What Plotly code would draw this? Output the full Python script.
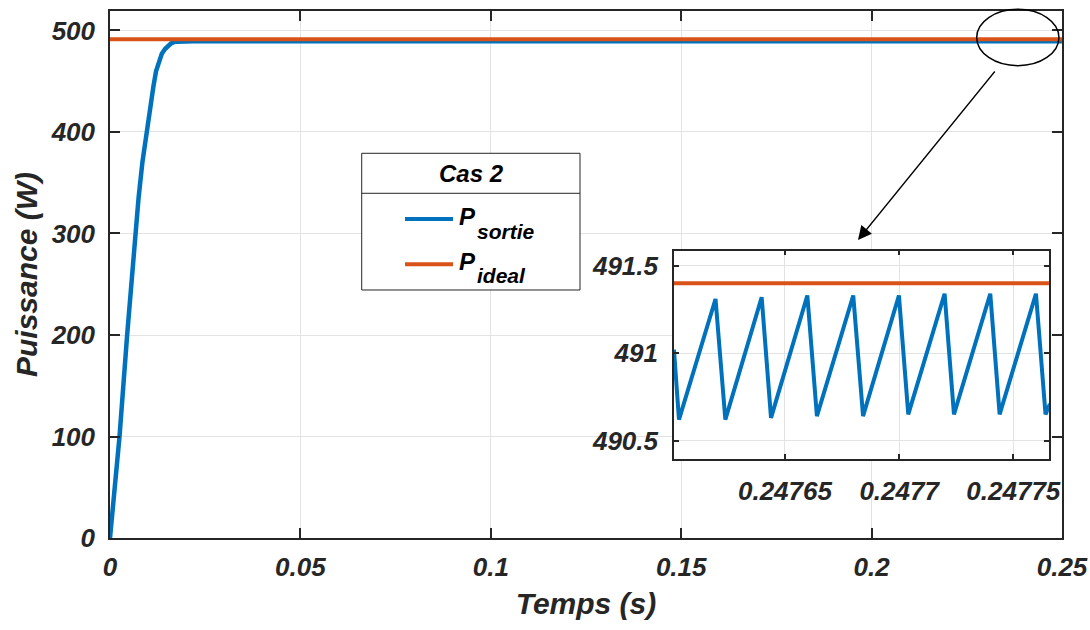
import plotly.graph_objects as go

# ---- data ----
t_main = [0, 0.0025, 0.0045, 0.0066, 0.0075, 0.0085, 0.0096, 0.0105, 0.0114, 0.0121, 0.0128,
          0.0132, 0.0136, 0.0145, 0.0153, 0.0160, 0.0168, 0.0175, 0.022, 0.05, 0.1, 0.15,
          0.2, 0.25]
p_sortie = [0, 100, 200, 300, 335, 370, 400, 425, 445, 460, 469,
            473.5, 477, 482, 485.2, 487.2, 488.5, 489, 489.5, 489.5, 489.5, 489.5,
            489.5, 489.5]
t_ideal = [0, 0.25]
p_ideal = [491.4, 491.4]

inset_t = [0.2476014, 0.2476036, 0.2476196, 0.2476239, 0.2476398, 0.2476439, 0.2476598,
           0.2476640, 0.2476799, 0.2476842, 0.2476999, 0.2477040, 0.2477199, 0.2477240,
           0.2477399, 0.2477440, 0.2477599, 0.2477641, 0.2477660]
inset_p = [491.02, 490.62, 491.31, 490.62, 491.32, 490.63, 491.33, 490.64, 491.33,
           490.64, 491.33, 490.65, 491.34, 490.65, 491.34, 490.65, 491.34, 490.65, 490.71]
inset_ideal_t = [0.2476014, 0.2477656]
inset_ideal_p = [491.4, 491.4]

x_ticks = [0, 0.05, 0.1, 0.15, 0.2, 0.25]
x_ticktext = ["0", "0.05", "0.1", "0.15", "0.2", "0.25"]
y_ticks = [0, 100, 200, 300, 400, 500]
inset_xticks = [0.24765, 0.2477, 0.24775]
inset_xtext = ["0.24765", "0.2477", "0.24775"]
inset_yticks = [490.5, 491, 491.5]
inset_ytext = ["490.5", "491", "491.5"]

BLUE = "#0072BD"
ORANGE = "#D95319"
TXT = "#262626"
FONT = "Liberation Sans"

fig = go.Figure()
fig.add_trace(go.Scatter(x=t_main, y=p_sortie, mode="lines", line=dict(color=BLUE, width=4.5),
                         xaxis="x", yaxis="y", showlegend=False))
fig.add_trace(go.Scatter(x=t_ideal, y=p_ideal, mode="lines", line=dict(color=ORANGE, width=4),
                         xaxis="x", yaxis="y", showlegend=False))
fig.add_trace(go.Scatter(x=inset_t, y=inset_p, mode="lines", line=dict(color=BLUE, width=4),
                         xaxis="x2", yaxis="y2", showlegend=False))
fig.add_trace(go.Scatter(x=inset_ideal_t, y=inset_ideal_p, mode="lines",
                         line=dict(color=ORANGE, width=4),
                         xaxis="x2", yaxis="y2", showlegend=False))

tickfont = dict(family=FONT, size=26, color=TXT, weight="bold", style="italic")
titlefont = dict(family=FONT, size=30, color=TXT, weight="bold", style="italic")
axcommon = dict(showline=True, linecolor=TXT, linewidth=1.5, mirror="ticks",
                ticks="inside", tickcolor=TXT, tickwidth=1.5, automargin=False,
                showgrid=True, gridcolor="#e3e3e3", gridwidth=1, zeroline=False,
                tickfont=tickfont)

fig.update_layout(
    width=1090, height=630,
    margin=dict(l=110, r=28, t=11, b=92, autoexpand=False),
    paper_bgcolor="white", plot_bgcolor="white",
    xaxis=dict(domain=[0, 1], range=[0, 0.25], tickvals=x_ticks, ticktext=x_ticktext,
               ticklen=10, ticklabelstandoff=5,
               title=dict(text="Temps (s)", font=titlefont, standoff=12), **axcommon),
    yaxis=dict(domain=[0, 1], range=[0, 519.2], tickvals=y_ticks, ticklen=10,
               ticklabelstandoff=8,
               title=dict(text="Puissance (W)", font=titlefont, standoff=4), **axcommon),
    xaxis2=dict(domain=[0.5924, 0.9863], range=[0.2476014, 0.2477656], anchor="y2",
                tickvals=inset_xticks, ticktext=inset_xtext, ticklen=5,
                ticklabelstandoff=8, **axcommon),
    yaxis2=dict(domain=[0.1499, 0.5452], range=[490.395, 491.586], anchor="x2",
                tickvals=inset_yticks, ticktext=inset_ytext, ticklen=5,
                ticklabelstandoff=9, **axcommon),
)

shapes = [
    # white background for inset (hides main grid)
    dict(type="rect", xref="x2 domain", yref="y2 domain", x0=0, x1=1, y0=0, y1=1,
         fillcolor="white", line=dict(width=0), layer="below"),
    # legend box
    dict(type="rect", xref="paper", yref="paper", x0=0.2644, x1=0.4937, y0=0.4706, y1=0.7300,
         fillcolor="white", line=dict(color=TXT, width=1), layer="above"),
    dict(type="line", xref="paper", yref="paper", x0=0.2644, x1=0.4937, y0=0.6541, y1=0.6541,
         line=dict(color=TXT, width=1), layer="above"),
    dict(type="line", xref="paper", yref="paper", x0=0.3099, x1=0.3603, y0=0.6053, y1=0.6053,
         line=dict(color=BLUE, width=4), layer="above"),
    dict(type="line", xref="paper", yref="paper", x0=0.3099, x1=0.3603, y0=0.5194, y1=0.5194,
         line=dict(color=ORANGE, width=4), layer="above"),
    # ellipse
    dict(type="circle", xref="paper", yref="paper", x0=0.9104, x1=0.9968, y0=0.8962, y1=1.0032,
         line=dict(color="black", width=1.5), layer="above"),
]
fig.update_layout(shapes=shapes)


def pxx(px):
    return (px - 110) / 952.0


def pxy(py):
    return (538 - py) / 527.0


legP = dict(family=FONT, size=24, color="black", weight="bold", style="italic")
legS = dict(family=FONT, size=21, color="black", weight="bold", style="italic")
annotations = [
    dict(xref="paper", yref="paper", x=pxx(471), y=pxy(173), text="Cas 2", showarrow=False,
         font=dict(family=FONT, size=24, color="black", weight="bold", style="italic"),
         xanchor="center", yanchor="middle"),
    dict(xref="paper", yref="paper", x=pxx(457), y=pxy(216), text="P", showarrow=False,
         font=legP, xanchor="left", yanchor="middle"),
    dict(xref="paper", yref="paper", x=pxx(475), y=pxy(231), text="sortie", showarrow=False,
         font=legS, xanchor="left", yanchor="middle"),
    dict(xref="paper", yref="paper", x=pxx(457), y=pxy(261), text="P", showarrow=False,
         font=legP, xanchor="left", yanchor="middle"),
    dict(xref="paper", yref="paper", x=pxx(475), y=pxy(275), text="ideal", showarrow=False,
         font=legS, xanchor="left", yanchor="middle"),
    dict(xref="paper", yref="paper", x=pxx(858), y=pxy(240), text="", showarrow=True,
         ax=138, ay=-170, axref="pixel", ayref="pixel", arrowhead=2, arrowsize=2.1,
         arrowwidth=1.3, arrowcolor="black"),
]
fig.update_layout(annotations=annotations)

fig.write_html("out.html", config={"displayModeBar": False},
               post_script="document.body.style.margin='0';document.body.style.padding='0';")
